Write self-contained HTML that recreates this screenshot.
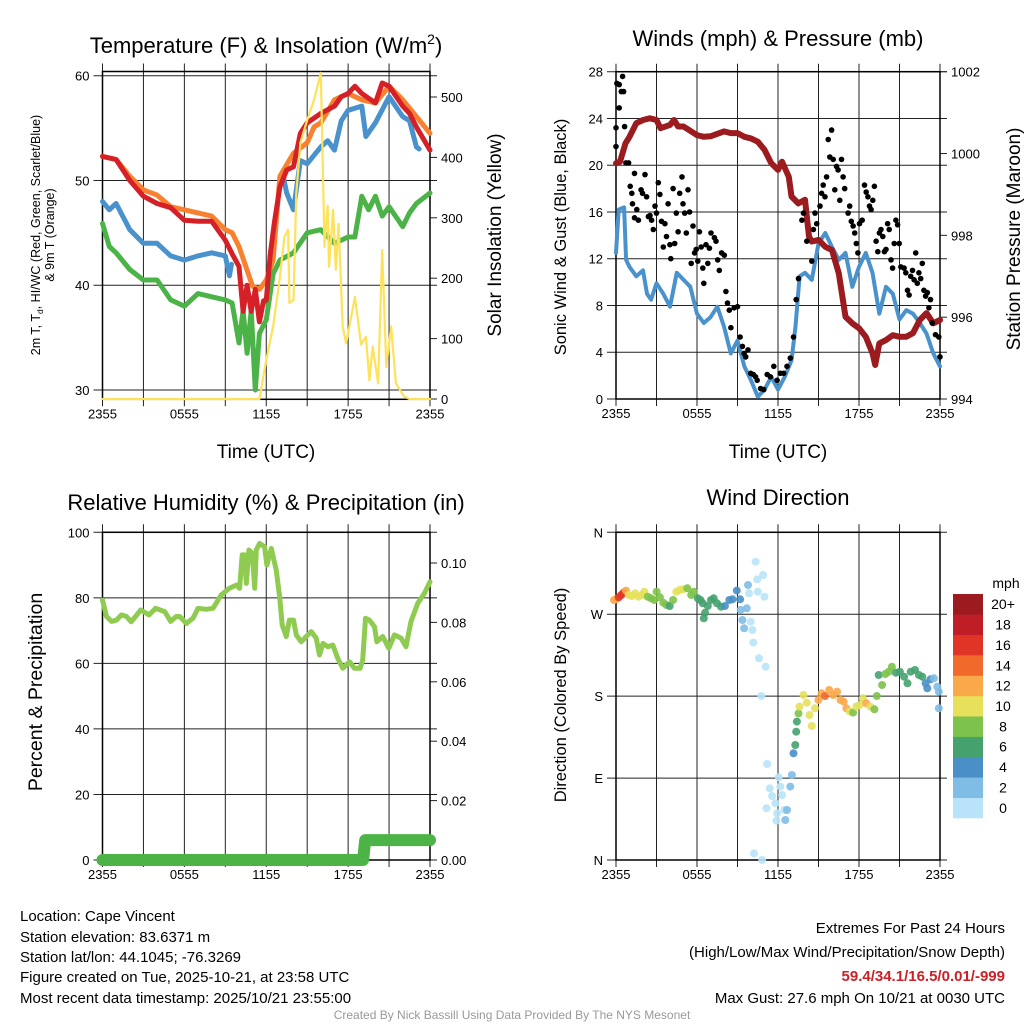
<!DOCTYPE html>
<html><head><meta charset="utf-8"><title>Cape Vincent Meteogram</title>
<style>
html,body{margin:0;padding:0;background:#fff;}
svg{display:block;font-family:"Liberation Sans",Arial,sans-serif;}
</style></head>
<body>
<svg id="chart" width="1024" height="1024" viewBox="0 0 1024 1024" xmlns="http://www.w3.org/2000/svg">
<rect x="0" y="0" width="1024" height="1024" fill="#fff"/>
<g id="layer"></g>
<text x="266" y="53" font-size="22" text-anchor="middle">Temperature (F) &amp; Insolation (W/m<tspan font-size="14" dy="-9">2</tspan><tspan dy="9">)</tspan></text>
<text x="778" y="46" font-size="22" text-anchor="middle">Winds (mph) &amp; Pressure (mb)</text>
<text x="266" y="510" font-size="22" text-anchor="middle">Relative Humidity (%) &amp; Precipitation (in)</text>
<text x="778" y="505" font-size="22" text-anchor="middle">Wind Direction</text>
<text x="266" y="458" font-size="19" text-anchor="middle">Time (UTC)</text>
<text x="778" y="458" font-size="19" text-anchor="middle">Time (UTC)</text>
<g transform="translate(40,235) rotate(-90)">
<text x="0" y="0" font-size="12.5" text-anchor="middle">2m T, T<tspan font-size="8.5" dy="3">d</tspan><tspan dy="-3">, HI/WC (Red, Green, Scarlet/Blue)</tspan></text>
<text x="0" y="14" font-size="12.5" text-anchor="middle">&amp; 9m T (Orange)</text>
</g>
<text transform="translate(501,235) rotate(-90)" font-size="19" text-anchor="middle">Solar Insolation (Yellow)</text>
<text transform="translate(566,237) rotate(-90)" font-size="16.5" text-anchor="middle">Sonic Wind &amp; Gust (Blue, Black)</text>
<text transform="translate(1020,239) rotate(-90)" font-size="19" text-anchor="middle">Station Pressure (Maroon)</text>
<text transform="translate(42,692) rotate(-90)" font-size="19.5" text-anchor="middle">Percent &amp; Precipitation</text>
<text transform="translate(566,695) rotate(-90)" font-size="16.5" text-anchor="middle">Direction (Colored By Speed)</text>
<g font-size="15">
<text x="20" y="921">Location: Cape Vincent</text>
<text x="20" y="942">Station elevation: 83.6371 m</text>
<text x="20" y="962">Station lat/lon: 44.1045; -76.3269</text>
<text x="20" y="982">Figure created on Tue, 2025-10-21, at 23:58 UTC</text>
<text x="20" y="1003">Most recent data timestamp: 2025/10/21 23:55:00</text>
</g>
<g font-size="15" text-anchor="end">
<text x="1005" y="933">Extremes For Past 24 Hours</text>
<text x="1005" y="957">(High/Low/Max Wind/Precipitation/Snow Depth)</text>
<text x="1005" y="981" fill="#cc2027" font-weight="bold">59.4/34.1/16.5/0.01/-999</text>
<text x="1005" y="1003">Max Gust: 27.6 mph On 10/21 at 0030 UTC</text>
</g>
<text x="512" y="1019" font-size="12" fill="#999" text-anchor="middle">Created By Nick Bassill Using Data Provided By The NYS Mesonet</text>
</svg>
<script>
// ---- Panel 1 data ----
const timeTickLabels = ["2355","0555","1155","1755","2355"];
const timeTickHours = [0,6,12,18,24];
const tempTicks = [30,40,50,60];
const solarTicks = [0,100,200,300,400,500];
const redT = [0,1,2,3,4,5,6,7,8,9,9.5,10,10.3,10.6,10.9,11.2,11.5,11.8,12,12.3,12.6,13,13.5,14,14.5,15,16,17,17.5,18,18.5,19,20,20.5,21,22,22.5,23,24];
const redV = [52.3,52,50,48.5,47.8,47.4,46.2,46.1,46.1,44.3,43,41.8,37.5,40,37.5,39.6,36.5,38.5,38.6,43,46,49.4,51,51.3,54.5,55.5,56.4,57.1,58,58.3,59,58.3,57.4,59.3,59,57.1,56.4,55.1,52.9];
const orangeT = [0,1,2,3,4,5,6,7,8,9,9.5,10,10.5,11,11.5,12,12.5,13,14,15,15.5,16,17,18,19,20,21,22,23,24];
const orangeV = [52.3,52.0,50.4,49.1,48.6,47.5,47.2,46.9,46.6,45.3,45.0,43.7,41.8,39.9,39.6,40.5,42.4,50.4,52.6,53.6,55.1,55.5,57.7,58.3,57.7,57.4,59.0,57.7,56.1,54.5];
const blueT = [0,0.5,1,2,3,4,5,6,7,8,9,9.3,9.45,9.5,13.2,13.5,14,14.5,15,16,16.5,17,17.5,18,19,19.3,20,21,22,22.5,23,23.2];
const blueV = [48.0,47.2,47.8,45.3,44.0,44.0,42.8,42.4,42.8,43.1,42.8,40.9,42.0,null,50.7,48.8,47.2,51.9,51.6,53.2,53.8,52.9,55.7,56.7,57.1,54.2,55.5,58.0,56.1,55.7,53.2,53.0];
const greenT = [0,0.5,1,2,3,4,5,6,7,8,9,9.5,10,10.3,10.6,10.9,11.2,11.5,12,12.5,13,14,15,16,17,18,18.5,19,19.5,20,20.5,21,22,22.5,23,24];
const greenV = [45.9,43.7,43.1,41.5,40.5,40.5,38.6,38.0,39.2,38.9,38.6,38.3,34.5,37.6,33.5,37.6,30,35.4,36.7,41.1,42.4,43.1,45.0,45.3,44.0,44.6,44.6,48.5,47.2,48.5,46.6,47.5,45.6,46.9,47.8,48.8];
const solarT = [0,11.5,12.0,12.5,13.0,13.34,13.6,13.7,14.0,14.2,14.5,15.0,15.5,16.0,16.27,16.5,16.6,16.9,17.1,17.3,17.6,17.85,18.5,18.95,19.3,19.56,19.8,20.2,20.5,20.8,21.15,21.5,22.1,22.5,24];
const solarV = [0,0,65,120,202,269,280,159,164,341,424,462,495,540,252,320,219,313,214,290,120,92,169,90,103,31,87,26,247,53,120,26,4,0,0];
// ---- Panel 2 data ----
const windTicks = [0,4,8,12,16,20,24,28];
const presTicks = [994,996,998,1000,1002];
const windT = [0,0.2,0.6,0.75,1,1.5,2,2.3,2.6,3,3.5,4,4.5,5,5.5,6,6.5,7,7.5,8,8.5,9,9.5,10,10.5,11,11.5,12,12.5,13,13.3,13.6,14,14.5,15,15.5,16,16.5,17,17.5,18,18.5,19,19.5,20,20.5,21,21.5,22,22.5,23,23.5,24];
const windV = [12.5,16.2,16.4,11.9,11.3,10.5,11.0,9.0,8.5,9.9,9.0,7.9,10.8,10.2,9.6,7.3,6.5,7.0,7.9,6.2,3.9,5.0,2.8,1.6,0.2,0.8,1.9,0.8,1.9,3.3,6.2,10.5,10.8,10.2,13.3,14.2,13.0,11.9,12.5,9.6,11.3,12.5,10.8,7.3,9.6,9.0,6.8,7.6,7.3,6.5,5.6,3.9,2.8];
const presT = [0,0.3,0.7,1,1.5,2,2.5,3,3.3,4,4.3,4.6,5,6,6.5,7,8,8.5,9,9.5,10,10.5,11,11.5,12,12.3,12.8,13,13.5,14,14.3,14.5,15,15.5,16,16.5,17,17.5,18,18.5,19,19.2,19.5,20,20.5,21,21.5,22,22.5,23,23.5,24];
const presV = [999.76,999.8,1000.25,1000.41,1000.74,1000.82,1000.86,1000.82,1000.62,1000.70,1000.82,1000.66,1000.66,1000.45,1000.41,1000.42,1000.54,1000.50,1000.50,1000.41,1000.37,1000.29,1000.09,999.76,999.60,999.80,999.43,998.95,998.78,998.87,997.97,997.85,997.89,997.72,997.64,997.07,996.01,995.85,995.73,995.52,995.12,994.83,995.36,995.44,995.56,995.52,995.52,995.61,995.93,996.10,995.85,995.93];
const gustT = [0,0,0.07,0.24,0.24,0.39,0.49,0.56,0.64,0.73,0.93,1.05,1.17,1.22,1.37,1.37,1.54,1.66,1.86,1.96,2.15,2.27,2.40,2.52,2.64,2.76,2.89,3.0,3.13,3.25,3.37,3.50,3.62,3.74,3.86,3.99,4.06,4.23,4.35,4.47,4.60,4.72,4.89,4.96,5.09,5.21,5.33,5.45,5.57,5.70,5.82,5.94,6.06,6.18,6.31,6.43,6.50,6.67,6.80,6.92,7.04,7.29,7.41,7.53,7.65,7.82,8.02,8.14,8.26,8.39,8.51,8.75,9.0,9.19,9.36,9.49,9.61,9.78,9.98,10.17,10.34,10.46,10.71,10.95,11.2,11.44,11.69,11.93,12.18,12.42,12.67,12.91,13.15,13.35,13.52,13.77,13.89,14.13,14.50,14.62,14.74,14.87,15.11,15.23,15.35,15.48,15.60,15.72,15.84,15.97,16.09,16.21,16.33,16.45,16.58,16.70,16.82,16.94,17.19,17.31,17.43,17.56,17.68,17.80,17.92,18.04,18.24,18.41,18.53,18.66,18.78,18.90,19.02,19.14,19.27,19.39,19.51,19.63,19.76,19.88,20.0,20.12,20.24,20.37,20.49,20.61,20.73,20.86,20.98,21.10,21.34,21.47,21.59,21.71,21.83,21.96,22.08,22.20,22.32,22.44,22.57,22.69,22.81,22.93,23.06,23.18,23.30,23.42,23.67,23.91,24.0];
const gustV = [23.2,21.6,27.0,26.9,24.9,26.3,27.6,26.3,23.3,20.2,20.2,18.2,17.6,16.7,19.3,15.5,16.2,15.3,17.9,17.6,19.2,17.3,15.6,15.7,15.3,14.5,16.5,15.9,18.5,17.5,15.2,13.0,15.0,13.9,16.7,13.2,12.0,18.0,13.3,15.9,14.3,17.6,19.0,16.7,15.9,14.2,17.9,16.0,11.6,14.8,12.5,12.8,11.8,14.3,13.0,11.2,9.9,13.2,11.6,12.9,14.2,13.8,13.5,11.9,11.0,12.5,12.3,9.2,8.2,7.6,6.1,7.8,7.9,5.3,4.5,3.9,3.6,4.2,2.2,2.1,1.9,1.6,0.9,0.8,2.1,1.9,2.8,1.6,2.2,2.2,2.8,3.5,5.3,8.5,10.3,15.3,15.9,13.5,11.8,14.5,15.9,15.0,16.5,17.6,18.3,17.3,19.0,22.2,20.7,23.0,20.5,17.9,19.9,19.6,17.0,20.5,19.0,18.0,15.9,16.5,15.2,14.8,14.2,13.3,12.5,15.0,15.3,18.3,17.7,17.3,16.5,16.2,17.0,18.2,13.5,12.6,14.2,14.5,13.9,12.6,12.8,15.0,14.5,11.9,11.2,13.3,15.3,14.9,13.3,11.3,11.2,10.8,9.3,8.9,10.5,11.0,10.2,12.5,9.9,10.8,10.3,11.6,9.3,8.8,9.1,7.8,8.5,6.5,5.5,5.3,3.6];
// ---- Panel 3 data ----
const rhTicks = [0,20,40,60,80,100];
const precipTicks = [0,0.02,0.04,0.06,0.08,0.10];
const precipTickLabels = ["0.00","0.02","0.04","0.06","0.08","0.10"];
const rhT = [0,0.29,0.66,1.02,1.39,1.76,2.1,2.8,3.41,3.9,4.56,5.0,5.4,5.66,6.15,6.63,7.0,7.6,8.1,8.7,9.3,9.8,10.05,10.24,10.41,10.54,10.73,10.98,11.15,11.27,11.51,11.88,12.05,12.37,12.73,12.98,13.17,13.46,13.7,14.0,14.2,14.56,14.93,15.3,15.66,15.9,16.15,16.51,16.88,17.24,17.61,18.1,18.46,18.88,19.07,19.27,19.56,19.93,20.1,20.54,20.98,21.39,21.88,22.24,22.6,23.1,23.59,24];
const rhV = [79.3,74.3,72.8,73.2,74.8,74.3,72.7,76.3,74.8,76.8,75.8,72.8,74.3,74.3,72.2,73.8,76.8,76.5,76.8,80.9,82.9,83.9,82.9,93.1,93.1,84.4,94.6,93.6,82.9,94.6,96.6,95.6,90.0,95.1,88.5,80.4,71.7,68.2,73.2,73.2,68.7,66.6,68.2,69.7,67.7,62.6,66.1,65.1,65.6,61.5,58.5,60.5,58.5,58.5,61.0,73.8,73.2,71.2,66.6,68.2,64.6,68.7,67.7,65.1,72.7,78.3,81.4,84.9];
const precipT = [0,19.1,19.25,24];
const precipV = [0,0,0.0067,0.0067];
// ---- Panel 4 data ----
const dirTicks = [0,90,180,270,360];
const dirTickLabels = ["N","E","S","W","N"];
const dirT = [-0.15,0,0.2,0.39,0.56,0.73,0.93,1.17,1.42,1.66,1.91,2.10,2.35,2.59,2.84,3.01,3.25,3.50,3.74,3.98,4.23,4.47,4.72,4.96,5.28,5.57,5.77,6.06,6.26,6.43,6.60,6.50,6.80,7.04,7.24,7.48,7.78,8.07,8.39,8.63,8.95,9.19,9.24,9.68,9.36,9.49,9.78,9.85,9.98,10.10,10.17,10.34,10.46,10.51,10.59,10.90,11.0,11.08,10.76,11.20,11.39,11.56,11.81,11.93,11.88,12.05,12.18,12.30,12.47,12.67,12.54,11.15,12.91,13.03,13.15,13.28,13.35,13.40,13.52,13.59,13.89,14.13,14.33,14.50,14.74,14.99,15.23,15.48,15.79,16.09,16.38,16.63,16.87,17.07,17.31,17.56,17.80,18.04,18.29,18.53,18.83,19.14,19.32,19.46,19.71,19.95,20.20,20.44,20.73,21.03,21.34,21.59,21.83,22.15,22.44,22.69,22.93,23.06,23.30,23.55,23.79,23.91,23.91,10.22,10.83];
const dirV = [285.6,286.4,288.6,291.1,293.7,295.9,291.1,290.0,293.0,289.3,291.1,294.8,289.3,287.5,285.6,294.8,288.6,282.7,280.1,279.0,285.6,294.8,296.6,297.4,298.5,291.1,294.8,287.5,285.6,282.0,271.7,265.5,279.0,285.6,287.5,282.0,278.3,279.0,285.6,286.4,295.9,286.4,274.7,276.5,263.7,254.5,302.1,293.0,261.8,252.7,238.8,327.7,308.3,294.8,221.6,313.1,289.3,212.4,180.2,105.5,78.7,70.3,62.3,51.3,43.2,90.8,80.6,71.4,54.9,54.9,43.9,56.8,80.6,93.4,117.2,126.3,141.0,152.0,161.1,168.5,181.3,172.8,159.3,147.2,166.6,175.8,183.1,180.2,186.8,181.3,184.9,175.8,173.9,166.6,163.0,161.9,168.5,170.3,177.6,172.1,168.5,165.5,180.2,203.2,192.3,204.3,206.9,212.4,205.8,206.9,201.4,194.1,206.9,208.7,203.2,201.4,194.1,188.6,198.5,199.6,190.4,184.9,166.6,7.3,0];
const speedBinLabels = ["0","2","4","6","8","10","12","14","16","18","20+"];
const speedBinColors = ["#b8e3f8","#7fbde6","#4a8fc6","#45a26f","#7dc24a","#e6e05a","#f9a94a","#f26a2b","#e03426","#c01e27","#9b1b1f"];

const NS = "http://www.w3.org/2000/svg";
const layer = document.getElementById("layer");
function mk(tag, attrs, parent){
  const e = document.createElementNS(NS, tag);
  for (const k in attrs) e.setAttribute(k, attrs[k]);
  (parent||layer).appendChild(e);
  return e;
}
function lin(d0,d1,r0,r1){ return v => r0 + (v-d0)*(r1-r0)/(d1-d0); }
function pathD(ts, vs, sx, sy){
  let d = "", pen = false;
  for (let i=0;i<Math.min(ts.length,vs.length);i++){
    if (vs[i]===null){ pen=false; continue; }
    d += (pen?"L":"M") + sx(ts[i]).toFixed(1) + "," + sy(vs[i]).toFixed(1);
    pen = true;
  }
  return d;
}
function interp(ts, vs, t){
  if (t<=ts[0]) return vs[0];
  for (let i=1;i<ts.length;i++){ if (t<=ts[i]){ const f=(t-ts[i-1])/(ts[i]-ts[i-1]); return vs[i-1]+f*(vs[i]-vs[i-1]); } }
  return vs[vs.length-1];
}

function frame(name, x0, x1, yT, yB, sx, leftTicks, sy, leftLabels, rightTicks, sy2, rightLabels){
  const g = mk("g", {});
  
  
  for (let h=0; h<=24; h+=3){
    const x = sx(h);
    const l = mk("line", {x1:x, x2:x, y1:yT-8, y2:yB+7, stroke:"#222", "stroke-width":1}, g);
    
    
  }
  leftTicks.forEach((v,i)=>{
    const y = sy(v);
    const l = mk("line", {x1:x0-9, x2:x1+7, y1:y, y2:y, stroke:"#222", "stroke-width":1}, g);
    
    
    const t = mk("text", {x:x0-13, y:y+5, "font-size":13, "text-anchor":"end"}, g);
    t.textContent = leftLabels[i];
    
    
  });
  if (rightTicks){
    rightTicks.forEach((v,i)=>{
      const y = sy2(v);
      const l = mk("line", {x1:x1, x2:x1+7, y1:y, y2:y, stroke:"#222", "stroke-width":1}, g);
      
      
      const t = mk("text", {x:x1+11, y:y+5, "font-size":13, "text-anchor":"start"}, g);
      t.textContent = rightLabels[i];
      
      
    });
  }
  timeTickHours.forEach((h,i)=>{
    const t = mk("text", {x:sx(h), y:yB+19, "font-size":13, "text-anchor":"middle"}, g);
    t.textContent = timeTickLabels[i];
    
    
  });
  const r = mk("rect", {x:x0, y:yT, width:x1-x0, height:yB-yT, fill:"none", stroke:"#000", "stroke-width":1.5}, g);
  
  
}
function line(name, ts, vs, sx, sy, color, w, cap){
  const p = mk("path", {d:pathD(ts,vs,sx,sy), fill:"none", stroke:color, "stroke-width":w, "stroke-linejoin":"round", "stroke-linecap":cap||"round"});
  
  
  return p;
}

// Panel 1
const p1x = lin(0,24,102.5,430), p1y = lin(30,60,390,75.7), p1s = lin(0,500,399,97);
frame("temperature", 102.5, 430, 71.5, 399.3, p1x, tempTicks, p1y, tempTicks.map(String), solarTicks, p1s, solarTicks.map(String));
line("dewpoint-line", greenT, greenV, p1x, p1y, "#4bb347", 5);
line("heat-index-wind-chill-line", blueT, blueV, p1x, p1y, "#4a92cc", 5);
line("temp-9m-line", orangeT, orangeV, p1x, p1y, "#f7812f", 5);
line("temp-2m-line", redT, redV, p1x, p1y, "#d62027", 5);
line("solar-insolation-line", solarT, solarV, p1x, p1s, "#fde25a", 2.2);

// Panel 2
const p2x = lin(0,24,616,940), p2y = lin(0,28,399,71.7), p2p = lin(994,1002,399,71.7);
frame("winds", 616, 940, 71.7, 399, p2x, windTicks, p2y, windTicks.map(String), presTicks, p2p, presTicks.map(String));
line("sonic-wind-line", windT, windV, p2x, p2y, "#4a92cc", 4);
line("pressure-line", presT, presV, p2x, p2p, "#9b1b1e", 6);
for (let i=0;i<gustT.length;i++){
  const c = mk("circle", {cx:p2x(gustT[i]).toFixed(1), cy:p2y(gustV[i]).toFixed(1), r:2.8, fill:"#000"});
  
  
}

// Panel 3
const p3x = lin(0,24,102.5,430), p3y = lin(0,100,860,532.3), p3p = lin(0,0.10,860,563);
frame("humidity", 102.5, 430, 532.3, 860, p3x, rhTicks, p3y, rhTicks.map(String), precipTicks, p3p, precipTickLabels);
line("relative-humidity-line", rhT, rhV, p3x, p3y, "#8fcb50", 5);
line("precipitation-line", precipT, precipV, p3x, p3p, "#4cb447", 12);

// Panel 4
const p4x = lin(0,24,616,940), p4y = lin(0,360,860,532.3);
frame("direction", 616, 940, 532.3, 860, p4x, dirTicks, p4y, dirTickLabels, null);
for (let i=0;i<dirT.length;i++){
  const spd = interp(windT, windV, dirT[i]);
  const bin = Math.max(0, Math.min(10, Math.floor(spd/2)));
  const c = mk("circle", {cx:p4x(dirT[i]).toFixed(1), cy:p4y(dirV[i]).toFixed(1), r:4, fill:speedBinColors[bin], "fill-opacity":0.9});
  
  
}
// Colorbar
const cb = mk("g", {});


const boxH = (818-594)/speedBinColors.length;
speedBinColors.forEach((col,i)=>{
  const y = 818 - (i+1)*boxH;
  const r = mk("rect", {x:953, y:y.toFixed(1), width:30, height:(boxH+0.3).toFixed(1), fill:col}, cb);
  
  
  const t = mk("text", {x:1003, y:(y+boxH/2+5).toFixed(1), "font-size":14, "text-anchor":"middle"}, cb);
  t.textContent = speedBinLabels[i];
  
  
});
const unit = mk("text", {x:1006, y:588, "font-size":14, "text-anchor":"middle"}, cb);
unit.textContent = "mph";


</script>
</body></html>
